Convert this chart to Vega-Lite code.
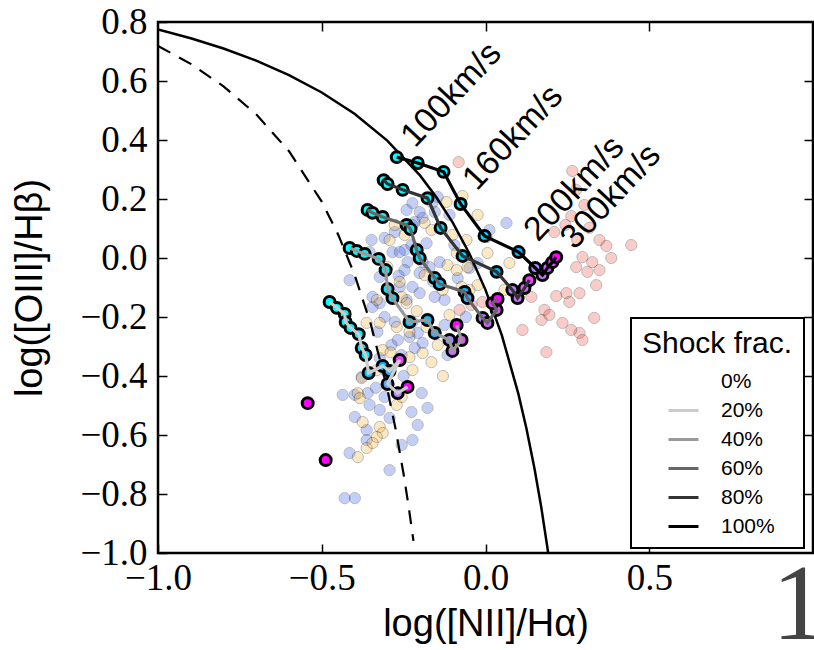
{
  "$schema": "https://vega.github.io/schema/vega-lite/v6.json",
  "width": 655,
  "height": 531,
  "autosize": {"type": "none"},
  "padding": {"left": 158, "top": 22, "right": 1, "bottom": 97},
  "background": "white",
  "config": {
    "view": {"stroke": "#000", "strokeWidth": 2.5},
    "legend": {
      "orient": "none", "legendX": 473, "legendY": 296,
      "titleFont": "Liberation Sans", "titleFontSize": 30, "titleFontWeight": "normal", "titleColor": "#000",
      "titleAnchor": "middle", "titlePadding": 6, "titleLimit": 400,
      "labelFont": "Liberation Sans", "labelFontSize": 21, "labelColor": "#000", "labelOffset": 21,
      "symbolType": "stroke", "symbolSize": 900, "symbolStrokeWidth": 3, "symbolOffset": 8,
      "strokeColor": "#000", "strokeWidth": 2, "fillColor": "white", "padding": 11, "rowPadding": 2, "cornerRadius": 0
    }
  },
  "datasets": {
    "bg": [
      {"x": -0.146, "y": 0.207, "p": "b"}, {"x": -0.162, "y": 0.186, "p": "b"}, {"x": -0.223, "y": 0.186, "p": "b"},
      {"x": -0.192, "y": 0.136, "p": "b"}, {"x": -0.155, "y": 0.156, "p": "b"}, {"x": -0.223, "y": 0.112, "p": "b"},
      {"x": -0.284, "y": 0.02, "p": "b"}, {"x": -0.247, "y": 0.027, "p": "b"}, {"x": -0.262, "y": 0.02, "p": "b"},
      {"x": -0.226, "y": 0.044, "p": "b"}, {"x": -0.238, "y": -0.014, "p": "b"}, {"x": -0.192, "y": -0.014, "p": "b"},
      {"x": -0.171, "y": -0.031, "p": "b"}, {"x": -0.201, "y": -0.051, "p": "b"}, {"x": -0.247, "y": -0.041, "p": "b"},
      {"x": -0.216, "y": 0.122, "p": "b"}, {"x": -0.201, "y": 0.156, "p": "b"}, {"x": -0.241, "y": 0.163, "p": "b"},
      {"x": -0.354, "y": 0.02, "p": "b"}, {"x": -0.415, "y": -0.075, "p": "b"}, {"x": -0.323, "y": -0.064, "p": "b"},
      {"x": -0.262, "y": -0.098, "p": "b"}, {"x": -0.223, "y": -0.098, "p": "b"}, {"x": -0.241, "y": -0.142, "p": "b"},
      {"x": -0.201, "y": -0.119, "p": "b"}, {"x": -0.155, "y": -0.132, "p": "b"}, {"x": -0.345, "y": -0.132, "p": "b"},
      {"x": -0.323, "y": -0.153, "p": "b"}, {"x": -0.345, "y": -0.166, "p": "b"}, {"x": -0.308, "y": -0.2, "p": "b"},
      {"x": -0.277, "y": -0.217, "p": "b"}, {"x": -0.223, "y": -0.217, "p": "b"}, {"x": -0.207, "y": -0.254, "p": "b"},
      {"x": -0.232, "y": -0.268, "p": "b"}, {"x": -0.216, "y": -0.305, "p": "b"}, {"x": -0.192, "y": -0.288, "p": "b"},
      {"x": -0.436, "y": -0.464, "p": "b"}, {"x": -0.399, "y": -0.464, "p": "b"}, {"x": -0.36, "y": -0.458, "p": "b"},
      {"x": -0.354, "y": -0.498, "p": "b"}, {"x": -0.308, "y": -0.471, "p": "b"}, {"x": -0.195, "y": -0.458, "p": "b"},
      {"x": -0.177, "y": -0.508, "p": "b"}, {"x": -0.399, "y": -0.539, "p": "b"}, {"x": -0.363, "y": -0.583, "p": "b"},
      {"x": -0.323, "y": -0.515, "p": "b"}, {"x": -0.293, "y": -0.542, "p": "b"}, {"x": -0.226, "y": -0.522, "p": "b"},
      {"x": -0.207, "y": -0.566, "p": "b"}, {"x": -0.223, "y": -0.617, "p": "b"}, {"x": -0.256, "y": -0.634, "p": "b"},
      {"x": -0.415, "y": -0.661, "p": "b"}, {"x": -0.363, "y": -0.617, "p": "b"}, {"x": -0.293, "y": -0.719, "p": "b"},
      {"x": -0.43, "y": -0.814, "p": "b"}, {"x": -0.399, "y": -0.814, "p": "b"}, {"x": -0.378, "y": -0.403, "p": "b"},
      {"x": -0.323, "y": -0.339, "p": "b"}, {"x": -0.302, "y": -0.386, "p": "b"}, {"x": 0.064, "y": 0.119, "p": "b"},
      {"x": -0.085, "y": -0.068, "p": "b"}, {"x": -0.125, "y": -0.142, "p": "b"}, {"x": -0.14, "y": -0.014, "p": "b"},
      {"x": -0.095, "y": 0.044, "p": "b"}, {"x": -0.049, "y": -0.034, "p": "b"}, {"x": -0.268, "y": -0.278, "p": "b"},
      {"x": -0.287, "y": -0.295, "p": "b"}, {"x": -0.256, "y": -0.329, "p": "b"}, {"x": -0.125, "y": -0.227, "p": "b"},
      {"x": -0.116, "y": -0.329, "p": "b"}, {"x": -0.11, "y": 0.146, "p": "b"}, {"x": -0.277, "y": 0.088, "p": "b"},
      {"x": -0.308, "y": 0.068, "p": "b"}, {"x": -0.348, "y": 0.061, "p": "b"}, {"x": 0.012, "y": 0.095, "p": "b"},
      {"x": -0.024, "y": -0.017, "p": "b"}, {"x": -0.265, "y": -0.06, "p": "b"}, {"x": -0.18, "y": 0.05, "p": "b"},
      {"x": -0.33, "y": -0.25, "p": "b"}, {"x": -0.25, "y": -0.4, "p": "b"}, {"x": -0.335, "y": -0.44, "p": "b"},
      {"x": -0.16, "y": -0.08, "p": "b"}, {"x": -0.06, "y": -0.2, "p": "b"},
      {"x": -0.119, "y": 0.19, "p": "o"}, {"x": -0.058, "y": 0.061, "p": "o"}, {"x": -0.024, "y": 0.146, "p": "o"},
      {"x": -0.165, "y": 0.095, "p": "o"}, {"x": -0.186, "y": 0.119, "p": "o"}, {"x": -0.293, "y": 0.061, "p": "o"},
      {"x": 0.003, "y": 0.071, "p": "o"}, {"x": 0.006, "y": 0.017, "p": "o"}, {"x": -0.262, "y": -0.081, "p": "o"},
      {"x": -0.186, "y": -0.058, "p": "o"}, {"x": -0.247, "y": 0.078, "p": "o"}, {"x": -0.332, "y": -0.142, "p": "o"},
      {"x": -0.256, "y": -0.132, "p": "o"}, {"x": -0.131, "y": -0.108, "p": "o"}, {"x": -0.116, "y": -0.024, "p": "o"},
      {"x": -0.363, "y": -0.22, "p": "o"}, {"x": -0.323, "y": -0.22, "p": "o"}, {"x": -0.241, "y": -0.153, "p": "o"},
      {"x": -0.232, "y": -0.251, "p": "o"}, {"x": -0.271, "y": -0.234, "p": "o"}, {"x": -0.314, "y": -0.312, "p": "o"},
      {"x": -0.378, "y": -0.407, "p": "o"}, {"x": -0.332, "y": -0.38, "p": "o"}, {"x": -0.39, "y": -0.458, "p": "o"},
      {"x": -0.271, "y": -0.498, "p": "o"}, {"x": -0.256, "y": -0.471, "p": "o"}, {"x": -0.18, "y": -0.234, "p": "o"},
      {"x": -0.384, "y": -0.475, "p": "o"}, {"x": -0.375, "y": -0.556, "p": "o"}, {"x": -0.323, "y": -0.573, "p": "o"},
      {"x": -0.314, "y": -0.593, "p": "o"}, {"x": -0.332, "y": -0.607, "p": "o"}, {"x": -0.363, "y": -0.644, "p": "o"},
      {"x": -0.39, "y": -0.675, "p": "o"}, {"x": -0.345, "y": -0.627, "p": "o"}, {"x": -0.192, "y": -0.322, "p": "o"},
      {"x": -0.165, "y": -0.353, "p": "o"}, {"x": -0.223, "y": -0.38, "p": "o"}, {"x": -0.232, "y": -0.336, "p": "o"},
      {"x": -0.101, "y": 0.078, "p": "o"}, {"x": 0.073, "y": -0.017, "p": "o"}, {"x": -0.088, "y": -0.041, "p": "o"},
      {"x": -0.055, "y": -0.031, "p": "o"}, {"x": -0.024, "y": -0.092, "p": "o"}, {"x": -0.088, "y": 0.017, "p": "o"},
      {"x": -0.073, "y": -0.098, "p": "o"}, {"x": -0.277, "y": 0.112, "p": "o"}, {"x": -0.11, "y": -0.193, "p": "o"},
      {"x": -0.146, "y": -0.295, "p": "o"}, {"x": -0.049, "y": -0.108, "p": "o"}, {"x": 0.058, "y": -0.108, "p": "o"},
      {"x": -0.3, "y": -0.03, "p": "o"}, {"x": -0.21, "y": -0.18, "p": "o"}, {"x": -0.29, "y": -0.32, "p": "o"},
      {"x": -0.07, "y": 0.21, "p": "o"}, {"x": -0.13, "y": -0.4, "p": "o"},
      {"x": -0.082, "y": 0.325, "p": "r"}, {"x": 0.265, "y": 0.295, "p": "r"}, {"x": 0.277, "y": 0.231, "p": "r"},
      {"x": 0.302, "y": 0.18, "p": "r"}, {"x": 0.262, "y": 0.142, "p": "r"}, {"x": 0.244, "y": 0.112, "p": "r"},
      {"x": 0.317, "y": 0.102, "p": "r"}, {"x": 0.21, "y": 0.088, "p": "r"}, {"x": 0.28, "y": 0.061, "p": "r"},
      {"x": 0.348, "y": 0.061, "p": "r"}, {"x": 0.369, "y": 0.041, "p": "r"}, {"x": 0.296, "y": 0.003, "p": "r"},
      {"x": 0.326, "y": -0.014, "p": "r"}, {"x": 0.277, "y": -0.031, "p": "r"}, {"x": 0.311, "y": -0.047, "p": "r"},
      {"x": 0.348, "y": -0.041, "p": "r"}, {"x": 0.338, "y": -0.092, "p": "r"}, {"x": 0.247, "y": -0.119, "p": "r"},
      {"x": 0.216, "y": -0.129, "p": "r"}, {"x": 0.287, "y": -0.119, "p": "r"}, {"x": 0.256, "y": -0.149, "p": "r"},
      {"x": 0.14, "y": -0.132, "p": "r"}, {"x": 0.18, "y": -0.176, "p": "r"}, {"x": 0.113, "y": -0.244, "p": "r"},
      {"x": 0.171, "y": -0.21, "p": "r"}, {"x": 0.195, "y": -0.193, "p": "r"}, {"x": 0.235, "y": -0.22, "p": "r"},
      {"x": 0.287, "y": -0.254, "p": "r"}, {"x": 0.262, "y": -0.244, "p": "r"}, {"x": 0.186, "y": -0.319, "p": "r"},
      {"x": 0.296, "y": -0.278, "p": "r"}, {"x": 0.332, "y": -0.203, "p": "r"}, {"x": 0.384, "y": 0.0, "p": "r"},
      {"x": 0.445, "y": 0.044, "p": "r"}, {"x": -0.079, "y": -0.176, "p": "r"}, {"x": -0.043, "y": -0.159, "p": "r"},
      {"x": -0.009, "y": -0.149, "p": "r"}
    ],
    "kew": [
      {"x": -1.0, "y": 0.775}, {"x": -0.9, "y": 0.745}, {"x": -0.8, "y": 0.71}, {"x": -0.7, "y": 0.669},
      {"x": -0.6, "y": 0.62}, {"x": -0.5, "y": 0.561}, {"x": -0.4, "y": 0.489}, {"x": -0.3, "y": 0.398},
      {"x": -0.2, "y": 0.28}, {"x": -0.15, "y": 0.206}, {"x": -0.1, "y": 0.12}, {"x": -0.05, "y": 0.017},
      {"x": 0.0, "y": -0.108}, {"x": 0.05, "y": -0.262}, {"x": 0.1, "y": -0.459}, {"x": 0.125, "y": -0.578},
      {"x": 0.15, "y": -0.716}, {"x": 0.17, "y": -0.843}, {"x": 0.19, "y": -0.989}, {"x": 0.2, "y": -1.069}
    ],
    "kau": [
      {"x": -1.0, "y": 0.719}, {"x": -0.9, "y": 0.658}, {"x": -0.8, "y": 0.582}, {"x": -0.7, "y": 0.487},
      {"x": -0.6, "y": 0.362}, {"x": -0.5, "y": 0.191}, {"x": -0.45, "y": 0.08}, {"x": -0.4, "y": -0.056},
      {"x": -0.35, "y": -0.225}, {"x": -0.3, "y": -0.443}, {"x": -0.275, "y": -0.577}, {"x": -0.25, "y": -0.733},
      {"x": -0.235, "y": -0.84}, {"x": -0.22, "y": -0.959}
    ],
    "tr": [
      {"f": "100%", "i": 1, "x": -0.271, "y": 0.342, "t": 0}, {"f": "100%", "i": 2, "x": -0.207, "y": 0.322, "t": 0.05},
      {"f": "100%", "i": 3, "x": -0.128, "y": 0.292, "t": 0.15}, {"f": "100%", "i": 4, "x": -0.076, "y": 0.183, "t": 0.3},
      {"f": "100%", "i": 5, "x": -0.003, "y": 0.075, "t": 0.42}, {"f": "100%", "i": 6, "x": 0.101, "y": 0.02, "t": 0.55},
      {"f": "100%", "i": 7, "x": 0.152, "y": -0.034, "t": 0.78}, {"f": "100%", "i": 8, "x": 0.174, "y": -0.058, "t": 0.85},
      {"f": "100%", "i": 9, "x": 0.189, "y": -0.034, "t": 0.9}, {"f": "100%", "i": 10, "x": 0.204, "y": -0.014, "t": 0.95},
      {"f": "100%", "i": 11, "x": 0.216, "y": 0.003, "t": 1},
      {"f": "80%", "i": 1, "x": -0.311, "y": 0.264, "t": 0}, {"f": "80%", "i": 2, "x": -0.299, "y": 0.251, "t": 0.03},
      {"f": "80%", "i": 3, "x": -0.253, "y": 0.231, "t": 0.08}, {"f": "80%", "i": 4, "x": -0.177, "y": 0.203, "t": 0.18},
      {"f": "80%", "i": 5, "x": -0.137, "y": 0.102, "t": 0.3}, {"f": "80%", "i": 6, "x": -0.07, "y": 0.007, "t": 0.45},
      {"f": "80%", "i": 7, "x": 0.034, "y": -0.047, "t": 0.58}, {"f": "80%", "i": 8, "x": 0.082, "y": -0.108, "t": 0.8},
      {"f": "80%", "i": 9, "x": 0.098, "y": -0.136, "t": 0.85}, {"f": "80%", "i": 10, "x": 0.119, "y": -0.102, "t": 0.9},
      {"f": "80%", "i": 11, "x": 0.134, "y": -0.075, "t": 0.95},
      {"f": "60%", "i": 1, "x": -0.36, "y": 0.163, "t": 0}, {"f": "60%", "i": 2, "x": -0.345, "y": 0.153, "t": 0.03},
      {"f": "60%", "i": 3, "x": -0.314, "y": 0.139, "t": 0.07}, {"f": "60%", "i": 4, "x": -0.241, "y": 0.112, "t": 0.14},
      {"f": "60%", "i": 5, "x": -0.229, "y": 0.098, "t": 0.18}, {"f": "60%", "i": 6, "x": -0.21, "y": 0.027, "t": 0.28},
      {"f": "60%", "i": 7, "x": -0.201, "y": 0.0, "t": 0.33}, {"f": "60%", "i": 8, "x": -0.155, "y": -0.068, "t": 0.42},
      {"f": "60%", "i": 9, "x": -0.14, "y": -0.088, "t": 0.47}, {"f": "60%", "i": 10, "x": -0.064, "y": -0.115, "t": 0.58},
      {"f": "60%", "i": 11, "x": -0.055, "y": -0.136, "t": 0.63}, {"f": "60%", "i": 12, "x": -0.009, "y": -0.203, "t": 0.82},
      {"f": "60%", "i": 13, "x": 0.006, "y": -0.22, "t": 0.88}, {"f": "60%", "i": 14, "x": 0.034, "y": -0.176, "t": 0.93},
      {"f": "60%", "i": 15, "x": 0.021, "y": -0.153, "t": 0.96}, {"f": "60%", "i": 16, "x": 0.037, "y": -0.139, "t": 1},
      {"f": "40%", "i": 1, "x": -0.415, "y": 0.034, "t": 0}, {"f": "40%", "i": 2, "x": -0.393, "y": 0.024, "t": 0.03},
      {"f": "40%", "i": 3, "x": -0.369, "y": 0.014, "t": 0.07}, {"f": "40%", "i": 4, "x": -0.326, "y": -0.003, "t": 0.12},
      {"f": "40%", "i": 5, "x": -0.305, "y": -0.041, "t": 0.18}, {"f": "40%", "i": 6, "x": -0.299, "y": -0.105, "t": 0.28},
      {"f": "40%", "i": 7, "x": -0.284, "y": -0.136, "t": 0.33}, {"f": "40%", "i": 8, "x": -0.232, "y": -0.217, "t": 0.45},
      {"f": "40%", "i": 9, "x": -0.177, "y": -0.21, "t": 0.55}, {"f": "40%", "i": 10, "x": -0.155, "y": -0.254, "t": 0.62},
      {"f": "40%", "i": 11, "x": -0.11, "y": -0.278, "t": 0.75}, {"f": "40%", "i": 12, "x": -0.101, "y": -0.315, "t": 0.85},
      {"f": "40%", "i": 13, "x": -0.073, "y": -0.278, "t": 0.93}, {"f": "40%", "i": 14, "x": -0.088, "y": -0.227, "t": 1},
      {"f": "20%", "i": 1, "x": -0.476, "y": -0.149, "t": 0}, {"f": "20%", "i": 2, "x": -0.454, "y": -0.169, "t": 0.03},
      {"f": "20%", "i": 3, "x": -0.43, "y": -0.19, "t": 0.07}, {"f": "20%", "i": 4, "x": -0.427, "y": -0.217, "t": 0.1},
      {"f": "20%", "i": 5, "x": -0.412, "y": -0.237, "t": 0.14}, {"f": "20%", "i": 6, "x": -0.387, "y": -0.258, "t": 0.2},
      {"f": "20%", "i": 7, "x": -0.378, "y": -0.305, "t": 0.26}, {"f": "20%", "i": 8, "x": -0.366, "y": -0.329, "t": 0.32},
      {"f": "20%", "i": 9, "x": -0.357, "y": -0.39, "t": 0.45}, {"f": "20%", "i": 10, "x": -0.314, "y": -0.366, "t": 0.55},
      {"f": "20%", "i": 11, "x": -0.293, "y": -0.383, "t": 0.62}, {"f": "20%", "i": 12, "x": -0.262, "y": -0.346, "t": 0.95},
      {"f": "20%", "i": 13, "x": -0.299, "y": -0.427, "t": 0.66}, {"f": "20%", "i": 14, "x": -0.268, "y": -0.458, "t": 0.8},
      {"f": "20%", "i": 15, "x": -0.238, "y": -0.437, "t": 1},
      {"f": "0%", "i": 1, "x": -0.543, "y": -0.492, "t": 1}, {"f": "0%", "i": 2, "x": -0.488, "y": -0.685, "t": 1}
    ],
    "lab": [
      {"x": -0.215, "y": 0.37, "label": "100km/s"},
      {"x": -0.027, "y": 0.225, "label": "160km/s"},
      {"x": 0.16, "y": 0.052, "label": "200km/s"},
      {"x": 0.272, "y": 0.025, "label": "300km/s"}
    ],
    "big": [{"x": 0.957, "y": -1.29, "label": "1"}]
  },
  "layer": [
    {
      "data": {"name": "bg"},
      "mark": {"type": "point", "shape": "circle", "filled": true, "size": 125, "stroke": "#000", "strokeWidth": 1, "opacity": 0.27},
      "encoding": {
        "x": {"field": "x", "type": "quantitative", "scale": {"domain": [-1, 1], "nice": false, "zero": false},
          "axis": {"orient": "bottom", "values": [-1, -0.5, 0, 0.5], "labelExpr": "replace(format(datum.value, '.1f'), '-', '−')",
            "labelFont": "Liberation Serif", "labelFontSize": 37, "labelColor": "#000", "labelPadding": 16, "labelFlush": false, "labelOverlap": false,
            "tickSize": -9, "tickColor": "#000", "tickWidth": 1.5, "domain": false, "grid": false,
            "title": "log([NII]/Hα)", "titleFont": "Liberation Sans", "titleFontSize": 38, "titleFontWeight": "normal", "titleColor": "#000", "titlePadding": 9}},
        "y": {"field": "y", "type": "quantitative", "scale": {"domain": [-1, 0.8], "nice": false, "zero": false},
          "axis": {"orient": "left", "values": [-1, -0.8, -0.6, -0.4, -0.2, 0, 0.2, 0.4, 0.6, 0.8], "labelExpr": "replace(format(datum.value, '.1f'), '-', '−')",
            "labelFont": "Liberation Serif", "labelFontSize": 37, "labelColor": "#000", "labelPadding": 20, "labelFlush": false, "labelOverlap": false,
            "tickSize": -9, "tickColor": "#000", "tickWidth": 1.5, "domain": false, "grid": false,
            "title": "log([OIII]/Hβ)", "titleFont": "Liberation Sans", "titleFontSize": 38, "titleFontWeight": "normal", "titleColor": "#000", "titlePadding": 30}},
        "color": {"field": "p", "type": "nominal", "scale": {"domain": ["b", "o", "r"], "range": ["#2753eb", "#f5ad25", "#ef4333"]}, "legend": null}
      }
    },
    {
      "data": {"name": "kew"},
      "mark": {"type": "line", "color": "#000", "strokeWidth": 2.5, "clip": true},
      "encoding": {
        "x": {"field": "x", "type": "quantitative", "scale": {"domain": [-1, 1], "nice": false, "zero": false},
          "axis": {"orient": "top", "values": [-0.5, 0, 0.5], "labels": false, "tickSize": -9, "tickColor": "#000", "tickWidth": 1.5, "domain": false, "grid": false, "title": null}},
        "y": {"field": "y", "type": "quantitative", "scale": {"domain": [-1, 0.8], "nice": false, "zero": false},
          "axis": {"orient": "right", "values": [-0.8, -0.6, -0.4, -0.2, 0, 0.2, 0.4, 0.6], "labels": false, "tickSize": -9, "tickColor": "#000", "tickWidth": 1.5, "domain": false, "grid": false, "title": null}},
        "order": {"field": "x", "type": "quantitative"}
      }
    },
    {
      "data": {"name": "kau"},
      "mark": {"type": "line", "color": "#000", "strokeWidth": 2.2, "strokeDash": [14, 10], "clip": true},
      "encoding": {
        "x": {"field": "x", "type": "quantitative", "axis": null},
        "y": {"field": "y", "type": "quantitative", "axis": null},
        "order": {"field": "x", "type": "quantitative"}
      }
    },
    {
      "data": {"name": "tr"},
      "mark": {"type": "point", "shape": "circle", "filled": true, "size": 120, "stroke": "#000", "strokeWidth": 3, "opacity": 1},
      "encoding": {
        "x": {"field": "x", "type": "quantitative", "axis": null},
        "y": {"field": "y", "type": "quantitative", "axis": null},
        "fill": {"field": "t", "type": "quantitative", "scale": {"domain": [0, 1], "range": ["#00ffff", "#ff00ff"]}, "legend": null}
      }
    },
    {
      "data": {"name": "tr"},
      "transform": [{"filter": "datum.f != '0%'"}],
      "mark": {"type": "line", "strokeWidth": 3.2},
      "encoding": {
        "x": {"field": "x", "type": "quantitative", "axis": null},
        "y": {"field": "y", "type": "quantitative", "axis": null},
        "order": {"field": "i", "type": "quantitative"},
        "stroke": {"field": "f", "type": "nominal", "title": "Shock frac.",
          "scale": {"domain": ["0%", "20%", "40%", "60%", "80%", "100%"], "range": ["#ffffff", "#cccccc", "#999999", "#666666", "#333333", "#000000"]}}
      }
    },
    {
      "data": {"name": "lab"},
      "mark": {"type": "text", "font": "Liberation Sans", "fontSize": 34, "angle": -47, "align": "left", "baseline": "alphabetic", "color": "#000"},
      "encoding": {
        "x": {"field": "x", "type": "quantitative", "axis": null},
        "y": {"field": "y", "type": "quantitative", "axis": null},
        "text": {"field": "label"}
      }
    },
    {
      "data": {"name": "big"},
      "mark": {"type": "text", "font": "Liberation Serif", "fontSize": 108, "align": "center", "baseline": "alphabetic", "color": "#444"},
      "encoding": {
        "x": {"field": "x", "type": "quantitative", "axis": null},
        "y": {"field": "y", "type": "quantitative", "axis": null},
        "text": {"field": "label"}
      }
    }
  ],
  "resolve": {"axis": {"x": "independent", "y": "independent"}}
}
